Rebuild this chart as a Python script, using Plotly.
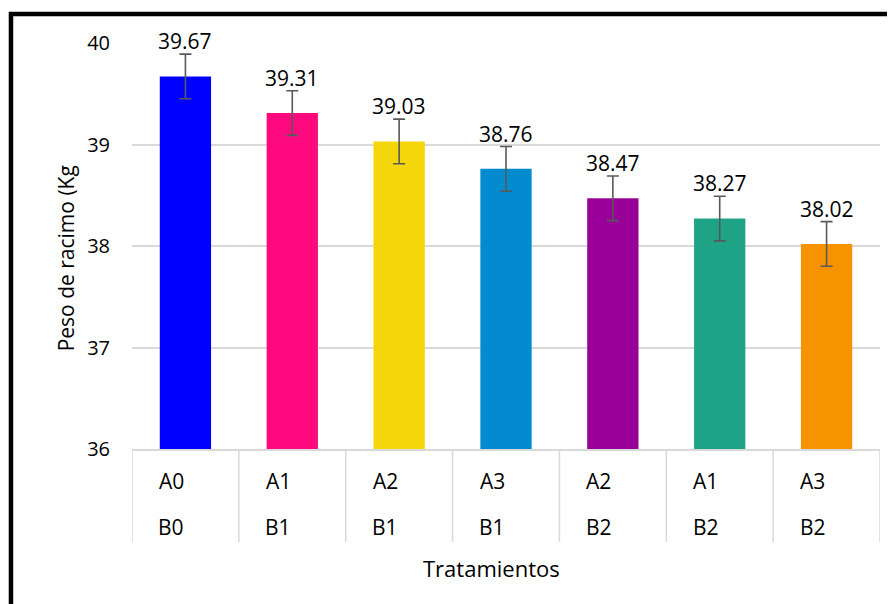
import plotly.graph_objects as go

factor_a = ["A0", "A1", "A2", "A3", "A2", "A1", "A3"]
factor_b = ["B0", "B1", "B1", "B1", "B2", "B2", "B2"]
peso = [39.67, 39.31, 39.03, 38.76, 38.47, 38.27, 38.02]
error = [0.22, 0.22, 0.22, 0.22, 0.22, 0.22, 0.22]
colors = ["#0000FF", "#FF0A7E", "#F5D60A", "#028BCF", "#990099", "#1EA386", "#F79200"]
y_ticks = [36, 37, 38, 39, 40]

FONT = "Open Sans"
xs = list(range(len(peso)))

fig = go.Figure()
fig.add_trace(go.Bar(
    x=xs, y=peso, width=0.48,
    marker=dict(color=colors, line=dict(width=0)),
    error_y=dict(type="data", array=error, visible=True,
                 color="#595959", thickness=1.6, width=6),
    hoverinfo="skip",
))

# data labels
for x, v, e in zip(xs, peso, error):
    fig.add_annotation(x=x, y=v + e, text=f"{v:.2f}", showarrow=False,
                       yanchor="bottom", yshift=-3,
                       font=dict(family=FONT, size=21, color="#000000"))

# category separators
for k in range(len(peso) + 1):
    fig.add_shape(type="line", xref="x", yref="paper",
                  x0=k - 0.5, x1=k - 0.5, y0=0, y1=-0.229,
                  line=dict(color="#D9D9D9", width=1.5))

# two-level category labels
for x, a, b in zip(xs, factor_a, factor_b):
    fig.add_annotation(x=x, y=-0.079, xref="x", yref="paper", text=a,
                       showarrow=False, xshift=-14, yanchor="middle",
                       font=dict(family=FONT, size=21, color="#000000"))
    fig.add_annotation(x=x, y=-0.192, xref="x", yref="paper", text=b,
                       showarrow=False, xshift=-14, yanchor="middle",
                       font=dict(family=FONT, size=21, color="#000000"))

# axis titles
fig.add_annotation(x=0.48, y=-0.293, xref="paper", yref="paper",
                   text="Tratamientos", showarrow=False, yanchor="middle",
                   font=dict(family=FONT, size=22, color="#000000"))
fig.add_annotation(x=-0.088, y=0.47, xref="paper", yref="paper",
                   text="Peso de racimo (Kg", showarrow=False, textangle=-90,
                   xanchor="center", yanchor="middle",
                   font=dict(family=FONT, size=21, color="#000000"))

# outer chart border (thick black); right and bottom edges fall outside the view
fig.add_shape(type="rect", xref="paper", yref="paper",
              x0=-0.1618, x1=1.06, y0=-0.55, y1=1.0714,
              line=dict(color="#000000", width=4.5))

# page body has an 8px margin: size the figure so that the page fits the window
fig.update_layout(
    width=887, height=596,
    margin=dict(l=124, r=15, t=35, b=155),
    paper_bgcolor="white", plot_bgcolor="white",
    showlegend=False,
    xaxis=dict(range=[-0.5, 6.5], showticklabels=False, showgrid=False,
               zeroline=False, showline=True, linecolor="#D9D9D9",
               linewidth=1.5, ticks=""),
    yaxis=dict(range=[36, 40], tickvals=y_ticks, showgrid=True,
               gridcolor="#D9D9D9", gridwidth=1.5, zeroline=False,
               showline=False, ticks="", ticklabelstandoff=21,
               tickfont=dict(family=FONT, size=20, color="#000000")),
)

fig.write_html("out.html")
